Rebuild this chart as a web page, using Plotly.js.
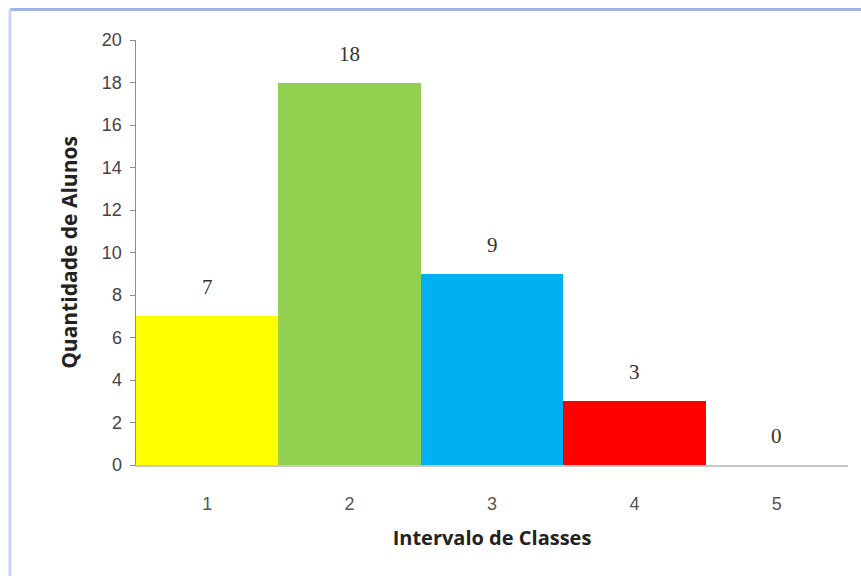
<!DOCTYPE html>
<html>
<head>
<meta charset="utf-8">
<script src="https://cdn.plot.ly/plotly-3.0.1.min.js"></script>
<style>html,body{margin:0;padding:0;background:#fff;}#chart{width:861px;height:576px;}</style>
</head>
<body>
<div id="chart"></div>
<script>
var classes = [1, 2, 3, 4, 5];
var alunos = [7, 18, 9, 3, 0];
var barColors = ['#FFFF00', '#92D050', '#00B0F0', '#FF0000', '#E0E0E0'];
var yTicks = [0, 2, 4, 6, 8, 10, 12, 14, 16, 18, 20];

var trace = {
  type: 'bar',
  x: classes,
  y: alunos,
  marker: {color: barColors, line: {width: 0}},
  hoverinfo: 'x+y'
};

var annotations = classes.map(function (c, i) {
  return {
    x: c, y: alunos[i], xref: 'x', yref: 'y',
    text: String(alunos[i]), showarrow: false,
    yanchor: 'bottom', yshift: 15,
    font: {family: 'Liberation Serif, serif', size: 21, color: '#333'}
  };
});

var layout = {
  width: 861, height: 576,
  margin: {l: 136, r: 13, t: 40, b: 111},
  paper_bgcolor: '#ffffff',
  plot_bgcolor: '#ffffff',
  bargap: 0,
  showlegend: false,
  xaxis: {
    range: [0.5, 5.5],
    tickvals: classes,
    ticktext: classes.map(String),
    showgrid: false, zeroline: false,
    showline: true, linecolor: '#c8c8c8', linewidth: 1.5,
    ticks: '', ticklabelstandoff: 22,
    tickfont: {family: 'Liberation Sans, sans-serif', size: 18, color: '#555'},
    title: {text: 'Intervalo de Classes', standoff: 18,
      font: {family: 'Open Sans, sans-serif', size: 20, color: '#222', weight: 'bold'}}
  },
  yaxis: {
    range: [0, 20],
    tickvals: yTicks,
    showgrid: false, zeroline: false,
    showline: true, linecolor: '#8c8c8c', linewidth: 1.5,
    ticks: 'outside', ticklen: 5, tickcolor: '#8c8c8c',
    ticklabelstandoff: 4,
    tickfont: {family: 'Liberation Sans, sans-serif', size: 18, color: '#444'},
    title: {text: 'Quantidade de Alunos', standoff: 18,
      font: {family: 'Open Sans, sans-serif', size: 21, color: '#222', weight: 'bold'}}
  },
  annotations: annotations,
  shapes: [
    {type: 'line', xref: 'paper', yref: 'paper', x0: -0.177, x1: 1.02, y0: 1.072, y1: 1.072,
      line: {color: '#9fb4e8', width: 3}},
    {type: 'line', xref: 'paper', yref: 'paper', x0: -0.177, x1: -0.177, y0: 1.072, y1: -0.27,
      line: {color: '#c8d4f2', width: 3}}
  ]
};

Plotly.newPlot('chart', [trace], layout, {displayModeBar: false, staticPlot: true});
</script>
</body>
</html>
